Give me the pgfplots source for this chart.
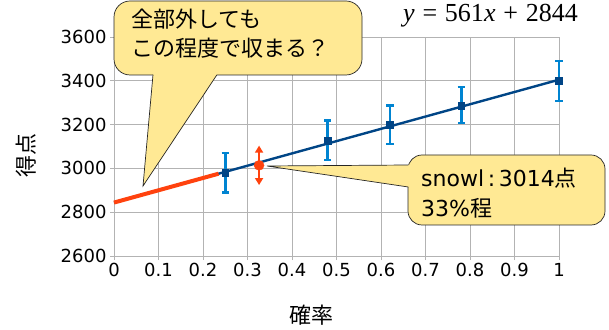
\documentclass[border=0pt]{standalone}
\usepackage{fontspec}
\setmainfont{DejaVu Sans}
\newfontfamily\jp{Noto Sans CJK JP}
\newfontfamily\tms{Liberation Serif}
\usepackage{pgfplots}
\usepackage{pgfplotstable}
\pgfplotsset{compat=1.18}
\usetikzlibrary{arrows.meta}

\definecolor{lineblue}{HTML}{004586}
\definecolor{barblue}{HTML}{0084D1}
\definecolor{hot}{HTML}{FF420E}
\definecolor{note}{HTML}{FFE994}
\definecolor{gridgray}{HTML}{B3B3B3}

% measured scores: probability, score, error
\pgfplotstableread{
x     y     e
0.25  2980  90
0.48  3128  91
0.62  3200  87
0.78  3288  82
1.00  3400  92
}\measured

\begin{document}
\begin{tikzpicture}
\path[use as bounding box] (0pt,0pt) rectangle (609pt,329pt);
\begin{axis}[
  at={(114pt,73pt)}, anchor=south west,
  scale only axis, width=445pt, height=219pt,
  xmin=0, xmax=1, ymin=2600, ymax=3600,
  xtick={0,0.1,0.2,0.3,0.4,0.5,0.6,0.7,0.8,0.9,1},
  ytick={2600,2800,3000,3200,3400,3600},
  grid=major, grid style={gridgray, line width=0.8pt},
  axis line style={gridgray, line width=0.8pt},
  tick style={gridgray, line width=0.8pt},
  tick align=outside, major tick length=4pt,
  xtick pos=bottom, ytick pos=left,
  /pgf/number format/assume math mode=true,
  ticklabel style={font=\fontsize{18}{18}\selectfont, text=black},
  xticklabel style={/pgf/number format/.cd, fixed},
  yticklabel style={/pgf/number format/.cd, fixed, 1000 sep={}},
  xlabel={\jp 確率}, ylabel={\jp 得点},
  label style={font=\fontsize{22}{22}\selectfont},
  xlabel style={at={(axis description cs:0.444,-0.272)}, anchor=center},
  ylabel style={at={(axis description cs:-0.198,0.461)}, anchor=center},
  clip=false,
]
% fitted line y = 561x + 2844
\addplot[lineblue, line width=2.4pt] coordinates {(0,2844) (1,3405)};
% extrapolated part
\addplot[hot, line width=4pt] coordinates {(0,2844) (0.235,2975.8)};
% measured points with error bars
\addplot[only marks, mark=square*, mark size=3.4pt,
  mark options={draw=lineblue, fill=lineblue},
  error bars/.cd, y dir=both, y explicit,
  error bar style={barblue, line width=2.8pt},
  error mark options={rotate=90, barblue, line width=2.2pt, mark size=3.6pt}]
  table[x=x, y=y, y error=e] {\measured};
% snowl
\addplot[hot, line width=1.6pt,
  {Triangle[width=8pt,length=7pt]}-{Triangle[width=8pt,length=7pt]}]
  coordinates {(0.326,2924) (0.326,3104)};
\addplot[only marks, mark=*, mark size=5pt, hot] coordinates {(0.326,3014)};
\end{axis}

\begin{scope}[x=1pt, y=1pt]
% callout: full miss
\fill[note, rounded corners=16pt] (114,328) rectangle (362,254);
\draw[black!85, line width=0.7pt, rounded corners=16pt] (114,328) rectangle (362,254);
\fill[note] (153,258) -- (153,254) -- (143,143) -- (217,254) -- (217,258) -- cycle;
\draw[black!85, line width=0.7pt] (153,254.3) -- (143,143) -- (217,254.3);
\node[anchor=base west, inner sep=0pt, font=\jp\fontsize{22}{22}\selectfont] at (131,301) {全部外しても};
\node[anchor=base west, inner sep=0pt, font=\jp\fontsize{22}{22}\selectfont] at (131,272) {この程度で収まる？};

% callout: snowl
\fill[note, rounded corners=14pt] (408,174) rectangle (605,104);
\draw[black!85, line width=0.7pt, rounded corners=14pt] (408,174) rectangle (605,104);
\fill[note] (412,164) -- (408,164) -- (267,163) -- (408,142) -- (412,142) -- cycle;
\draw[black!85, line width=0.7pt] (408.3,164) -- (267,163) -- (408.3,142);
\node[anchor=base west, inner sep=0pt, font=\fontsize{22}{22}\selectfont] at (421,142) {snowl\,:\,3014{\jp 点}};
\node[anchor=base west, inner sep=0pt, font=\fontsize{22}{22}\selectfont] at (421,112) {33\%{\jp 程}};

% regression equation
\node[anchor=base west, inner sep=0pt, font=\tms\fontsize{26}{26}\selectfont] at (403,307)
  {{\itshape y}\hspace{0.3em}=\hspace{0.3em}561{\itshape x}\hspace{0.3em}+\hspace{0.3em}2844};
\end{scope}
\end{tikzpicture}
\end{document}
